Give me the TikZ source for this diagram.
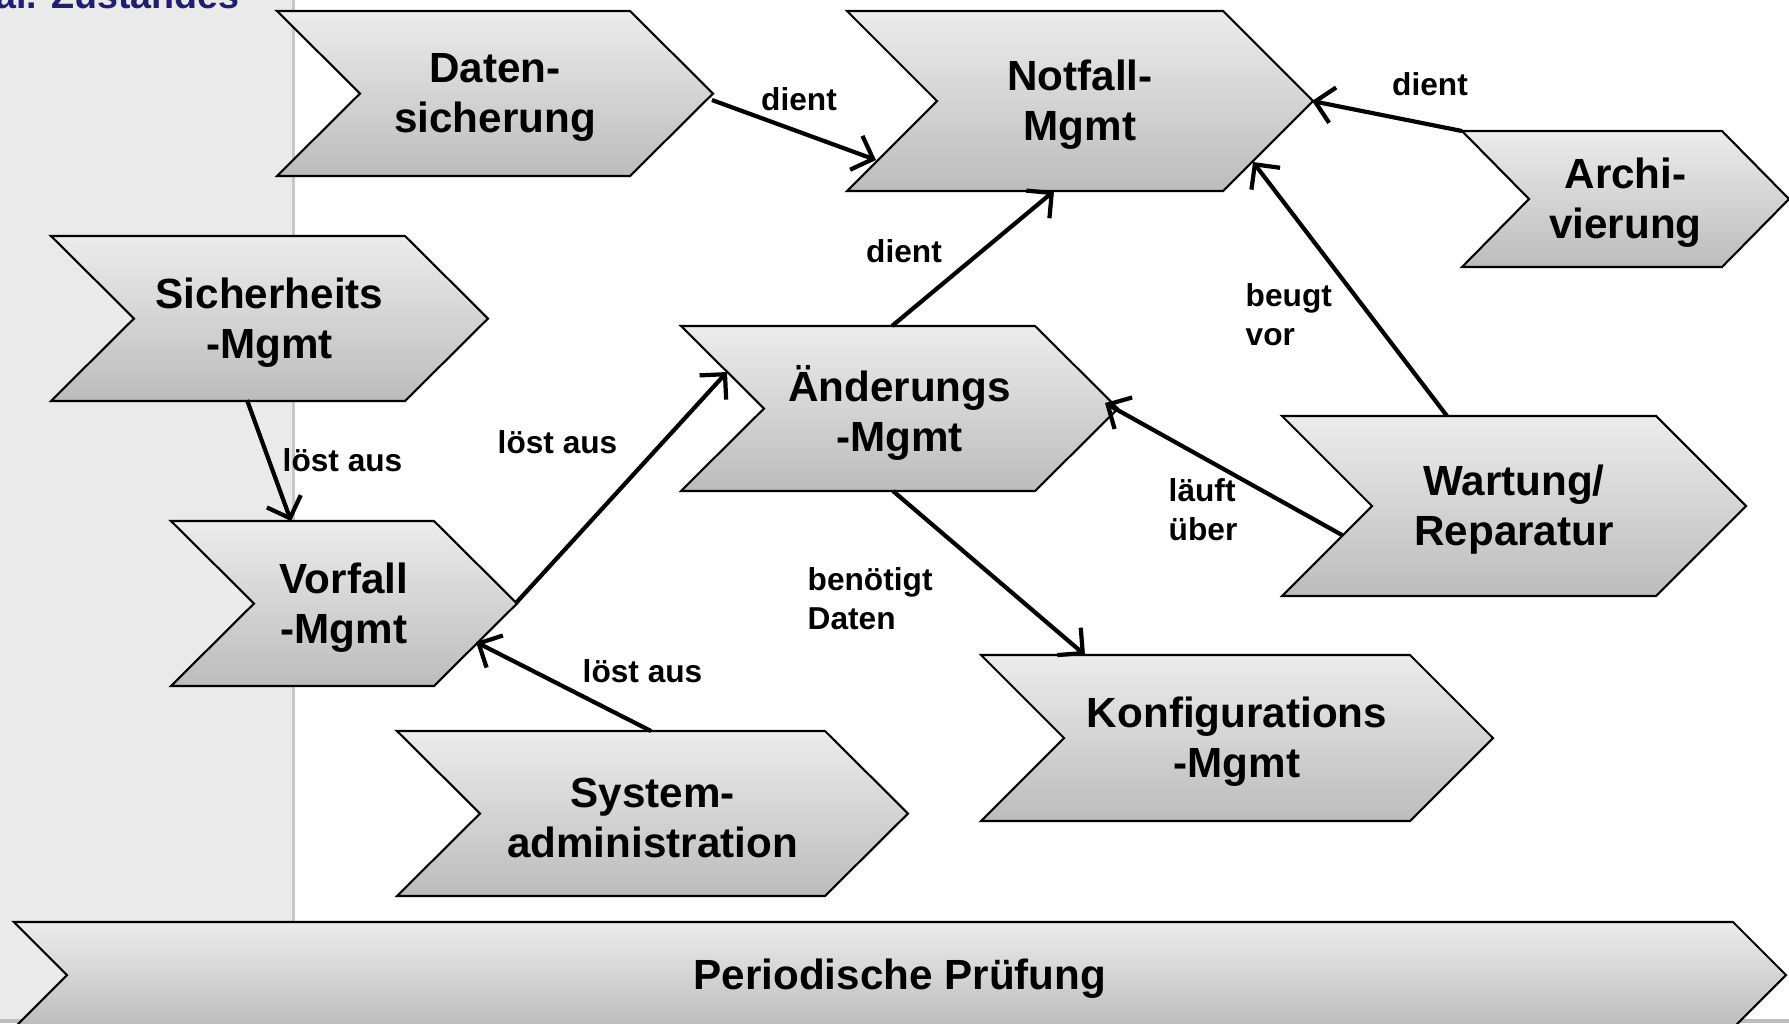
\documentclass[tikz,border=0pt]{standalone}
\usepackage{fontspec}
\setmainfont{Liberation Sans}
\usetikzlibrary{arrows.meta}
\definecolor{panel}{HTML}{EAEAEA}
\definecolor{panelline}{HTML}{C8C8C8}
\definecolor{navy}{RGB}{32,30,110}
\definecolor{chevtop}{HTML}{ECECEC}
\definecolor{chevbot}{HTML}{BCBCBC}
\tikzset{
 chev/.style={draw=black, line width=0.6pt, top color=chevtop, bottom color=chevbot, line join=miter},
 chevtext/.style={align=center, font=\fontsize{12}{14.2}\selectfont\bfseries, inner sep=0pt},
 conn/.style={line width=1.2pt, -{Straight Barb[length=1.8mm,width=3.6mm]}},
 lbl/.style={font=\fontsize{9}{10.9}\selectfont\bfseries, inner sep=0pt, align=left},
}
\newcommand\chevshape[7]{%
  \draw[chev] (#2,#4) -- (#3,#4) -- ({#3+#6},{(#4+#5)/2}) -- (#3,#5) -- (#2,#5) -- ({#2+#6},{(#4+#5)/2}) -- cycle;
  \node[chevtext] (#1) at ({(#2+#3+#6)/2},{(#4+#5)/2+4}) {#7};
}
\begin{document}
\begin{tikzpicture}[x=0.01cm,y=-0.01cm]
\useasboundingbox (0,0) rectangle (1789,1023);
\clip (0,0) rectangle (1789,1023);
% left panel
\fill[panel] (0,0) rectangle (293,1023);
\draw[panelline, line width=0.85pt] (293,0) -- (293,1023);
\fill[chevbot] (0,1019) rectangle (1789,1023);
\node[anchor=base east, text=navy, font=\fontsize{10.7}{12}\selectfont\bfseries, inner sep=0pt] (title) at (240,8) {al. Zustandes};
% shapes
\chevshape{ds}{277}{630}{11}{176}{83}{Daten-\\sicherung}
\chevshape{nf}{847}{1223}{11}{191}{90}{Notfall-\\Mgmt}
\chevshape{ar}{1462}{1722}{131}{267}{67}{Archi-\\vierung}
\chevshape{si}{51}{405}{236}{401}{83}{Sicherheits\\-Mgmt}
\chevshape{ae}{681}{1035}{326}{491}{83}{Änderungs\\-Mgmt}
\chevshape{wr}{1282}{1656}{416}{596}{90}{Wartung/\\Reparatur}
\chevshape{vf}{171}{434}{521}{686}{83}{Vorfall\\-Mgmt}
\chevshape{kf}{981}{1410}{655}{821}{83}{Konfigurations\\-Mgmt}
\chevshape{sa}{397}{825}{731}{896}{83}{System-\\administration}
\chevshape{pp}{14}{1733}{922}{1028}{53}{Periodische Prüfung}
% connector end points
\coordinate (ds-out) at (712,100);
\coordinate (nf-in1) at (876,160);
\coordinate (ae-top) at (892,326);
\coordinate (nf-bot) at (1054,191);
\coordinate (ar-out) at (1462,131);
\coordinate (nf-tip) at (1312,101);
\coordinate (wr-top) at (1447,416);
\coordinate (nf-in2) at (1253,162);
\coordinate (wr-left) at (1342,535);
\coordinate (ae-in1) at (1105,403);
\coordinate (ae-bot) at (893,491);
\coordinate (kf-top) at (1085,655);
\coordinate (vf-tip) at (516,603);
\coordinate (ae-in2) at (727,372);
\coordinate (si-bot) at (247,400);
\coordinate (vf-top) at (291,521);
\coordinate (sa-top) at (651,731);
\coordinate (vf-in) at (476,642);
% connectors
\draw[conn] (ds-out) -- (nf-in1);
\draw[conn] (ae-top) -- (nf-bot);
\draw[conn] (ar-out) -- (nf-tip);
\draw[conn] (wr-top) -- (nf-in2);
\draw[conn] (wr-left) -- (ae-in1);
\draw[conn] (ae-bot) -- (kf-top);
\draw[conn] (vf-tip) -- (ae-in2);
\draw[conn] (si-bot) -- (vf-top);
\draw[conn] (sa-top) -- (vf-in);
% labels
\node[lbl, anchor=base] (l1) at (799,110) {dient};
\node[lbl, anchor=base] (l2) at (904,262) {dient};
\node[lbl, anchor=base] (l3) at (1430,95) {dient};
\node[lbl, anchor=base west] (l4) at (1245,345) {beugt\\vor};
\node[lbl, anchor=base west] (l5) at (1168,540) {läuft\\über};
\node[lbl, anchor=base west] (l6) at (807,629) {benötigt\\Daten};
\node[lbl, anchor=base west] (l7) at (497,453) {löst aus};
\node[lbl, anchor=base west] (l8) at (282,471) {löst aus};
\node[lbl, anchor=base west] (l9) at (582,682) {löst aus};
\end{tikzpicture}
\end{document}
